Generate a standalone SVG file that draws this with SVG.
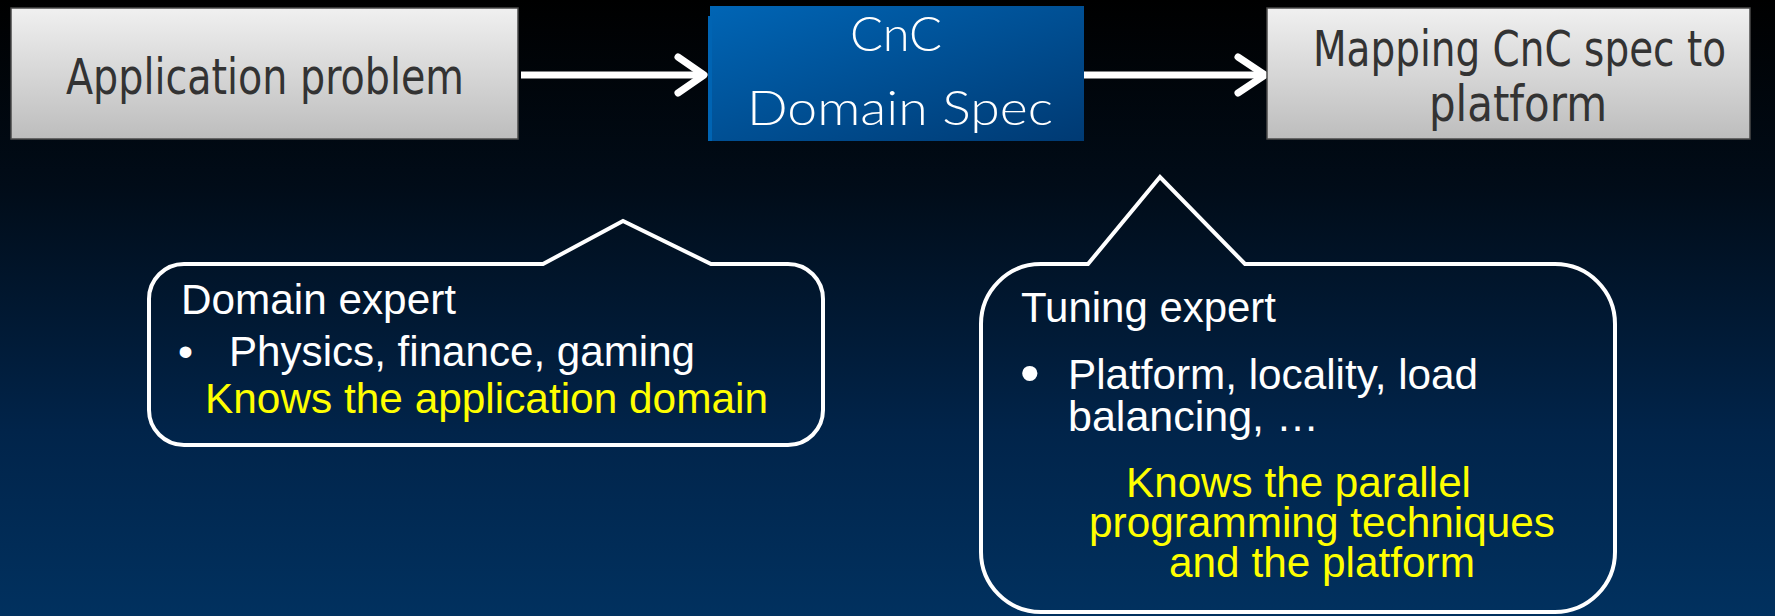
<svg xmlns="http://www.w3.org/2000/svg" width="1775" height="616" viewBox="0 0 1775 616">
<defs>
<linearGradient id="bg" x1="0" y1="0" x2="0" y2="1">
<stop offset="0" stop-color="#000000"/>
<stop offset="0.3" stop-color="#010c18"/>
<stop offset="0.7" stop-color="#01244a"/>
<stop offset="1" stop-color="#01315f"/>
</linearGradient>
<linearGradient id="gray" x1="0" y1="0" x2="0" y2="1">
<stop offset="0" stop-color="#f0f0f0"/>
<stop offset="1" stop-color="#bdbdbd"/>
</linearGradient>
<linearGradient id="blue" x1="0" y1="0" x2="1" y2="1">
<stop offset="0" stop-color="#0065b5"/>
<stop offset="1" stop-color="#003a73"/>
</linearGradient>
<style>
.gbox{fill:url(#gray);stroke:#4a4a4a;stroke-width:1.5}
.gtxt{font-family:"DejaVu Sans Condensed","Open Sans",sans-serif;font-size:49px;fill:#333333}
.btxt{font-family:Lato,"Open Sans",sans-serif;font-weight:300;font-size:48px;fill:#ffffff;text-anchor:middle}
.conn{stroke:#ffffff;stroke-width:7;fill:none;stroke-linecap:round;stroke-linejoin:round}
.callout{fill:none;stroke:#ffffff;stroke-width:4}
.w{font-family:"Liberation Sans",Arial,sans-serif;font-size:43px;fill:#ffffff}
.y{font-family:"Liberation Sans",Arial,sans-serif;font-size:43px;fill:#ffff00}
</style>
</defs>
<rect x="0" y="0" width="1775" height="616" fill="url(#bg)"/>

<g id="connectors">
<line class="conn" x1="521" y1="75" x2="702" y2="75" style="stroke-linecap:butt"/>
<polyline class="conn" points="678,57 704,75 678,93"/>
<line class="conn" x1="1084" y1="75" x2="1264" y2="75" style="stroke-linecap:butt"/>
<polyline class="conn" points="1238,57 1265,75 1238,93"/>
</g>

<g id="node-application">
<rect class="gbox" x="11" y="8" width="507" height="131"/>
<text class="gtxt" x="66" y="94" textLength="398" lengthAdjust="spacingAndGlyphs">Application problem</text>
</g>

<g id="node-cnc">
<rect x="710" y="6" width="374" height="135" fill="url(#blue)"/>
<rect x="708" y="16" width="4" height="125" fill="#0064b3"/>
<text class="btxt" x="896" y="51" textLength="92" lengthAdjust="spacingAndGlyphs">CnC</text>
<text class="btxt" x="900" y="125" textLength="306" lengthAdjust="spacingAndGlyphs">Domain Spec</text>
</g>

<g id="node-mapping">
<rect class="gbox" x="1267" y="8" width="483" height="131"/>
<text class="gtxt" x="1313" y="66" textLength="413" lengthAdjust="spacingAndGlyphs">Mapping CnC spec to</text>
<text class="gtxt" x="1429" y="121" textLength="178" lengthAdjust="spacingAndGlyphs">platform</text>
</g>

<g id="callout-domain">
<path class="callout" d="M184 264 L543 264 L623 221 L711 264 L788 264 A35 35 0 0 1 823 299 L823 410 A35 35 0 0 1 788 445 L184 445 A35 35 0 0 1 149 410 L149 299 A35 35 0 0 1 184 264 Z"/>
<text class="w" x="181" y="314" textLength="275" lengthAdjust="spacingAndGlyphs">Domain expert</text>
<text class="w" x="178" y="366">•</text>
<text class="w" x="229" y="366" textLength="466" lengthAdjust="spacingAndGlyphs">Physics, finance, gaming</text>
<text class="y" x="205" y="413" textLength="563" lengthAdjust="spacingAndGlyphs">Knows the application domain</text>
</g>

<g id="callout-tuning">
<path class="callout" d="M1041 264 L1088 264 L1160 177 L1245 264 L1555 264 A60 60 0 0 1 1615 324 L1615 552 A60 60 0 0 1 1555 612 L1041 612 A60 60 0 0 1 981 552 L981 324 A60 60 0 0 1 1041 264 Z"/>
<text class="w" x="1021" y="322" textLength="255" lengthAdjust="spacingAndGlyphs">Tuning expert</text>
<text class="w" x="1020" y="392" style="font-size:56px">•</text>
<text class="w" x="1068" y="389" textLength="410" lengthAdjust="spacingAndGlyphs">Platform, locality, load</text>
<text class="w" x="1068" y="431">balancing, …</text>
<text class="y" x="1126" y="497" textLength="345" lengthAdjust="spacingAndGlyphs">Knows the parallel</text>
<text class="y" x="1089" y="537" textLength="466" lengthAdjust="spacingAndGlyphs">programming techniques</text>
<text class="y" x="1169" y="577" textLength="306" lengthAdjust="spacingAndGlyphs">and the platform</text>
</g>
</svg>
